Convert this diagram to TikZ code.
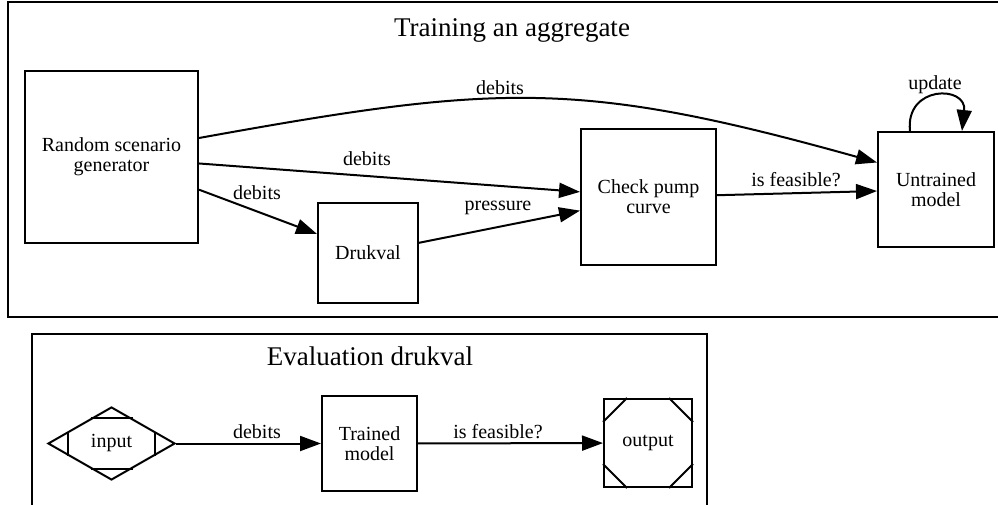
\documentclass[tikz,border=0pt]{standalone}
\usepackage{fontspec}
\setmainfont{Liberation Serif}
\usetikzlibrary{arrows.meta,shapes.geometric}
\tikzset{
    box/.style = {draw, rectangle, inner sep = 0pt, align = center, font = \fontsize{20}{20}\selectfont},
    lbl/.style = {inner sep = 0pt, anchor = base, font = \fontsize{20}{20}\selectfont},
    clustertitle/.style = {inner sep = 0pt, anchor = base, font = \fontsize{27}{27}\selectfont},
    edge/.style = {-{Triangle[length = 21pt, width = 15pt]}},
}

\begin{document}
\begin{tikzpicture}[x = 1pt, y = -1pt, line width = 2pt]
\useasboundingbox (0,0) rectangle (998,505);
\clip (0,0) rectangle (998,505);
% training cluster
\draw (8,2) rectangle (1016,317);
\node[clustertitle] (train) at (512,37) {Training an aggregate};
\node[box, minimum width = 173pt, minimum height = 172pt] (rsg) at (111.5,157) {Random scenario\\generator};
\node[box, minimum width = 100pt, minimum height = 100pt] (dru) at (368,253) {Drukval};
\node[box, minimum width = 135pt, minimum height = 136pt] (chk) at (648.5,197) {Check pump\\curve};
\node[box, minimum width = 116pt, minimum height = 115pt] (unt) at (936,189.5) {Untrained\\model};
\draw[edge] ([yshift = 19pt]rsg.east) .. controls (498,84) and (578,79) .. ([yshift = 27pt]unt.west)
    node[lbl, at = {(500,95)}] {debits};
\draw[edge] (rsg) -- (chk) node[lbl, at = {(367,166)}] {debits};
\draw[edge] (rsg) -- (dru) node[lbl, at = {(257,200)}] {debits};
\draw[edge] (dru) -- (chk) node[lbl, at = {(498,211)}] {pressure};
\draw[edge] (chk) -- (unt) node[lbl, at = {(796,187)}] {is feasible?};
\draw[edge] ([xshift = -26pt]unt.north) .. controls (905,85) and (967,85) .. ([xshift = 26pt]unt.north)
    node[lbl, at = {(935,90)}] {update};
% evaluation cluster
\draw (32,334) rectangle (707,530);
\node[clustertitle] (eval) at (370,365) {Evaluation drukval};
\node[draw, diamond, aspect = 1.74, minimum width = 127pt, minimum height = 73pt, inner sep = 0pt,
    font = \fontsize{20}{20}\selectfont] (inp) at (111.5,443.5) {input};
\draw ([shift = {(21,-12)}]inp.west) -- ([shift = {(21,12)}]inp.west);
\draw ([shift = {(-21,-12)}]inp.east) -- ([shift = {(-21,12)}]inp.east);
\draw ([shift = {(-21,12)}]inp.north) -- ([shift = {(21,12)}]inp.north);
\draw ([shift = {(-21,-12)}]inp.south) -- ([shift = {(21,-12)}]inp.south);
\node[box, minimum width = 95pt, minimum height = 95pt] (trn) at (369.5,443.5) {Trained\\model};
\node[box, minimum width = 88pt, minimum height = 88pt] (out) at (648,443) {output};
\draw ([shift = {(0,24)}]out.north west) -- ([shift = {(24,0)}]out.north west);
\draw ([shift = {(0,24)}]out.north east) -- ([shift = {(-24,0)}]out.north east);
\draw ([shift = {(0,-24)}]out.south west) -- ([shift = {(24,0)}]out.south west);
\draw ([shift = {(0,-24)}]out.south east) -- ([shift = {(-24,0)}]out.south east);
\draw[edge] (inp) -- (trn) node[lbl, at = {(257,438)}] {debits};
\draw[edge] (trn) -- (out) node[lbl, at = {(498,438)}] {is feasible?};
\end{tikzpicture}
\end{document}
